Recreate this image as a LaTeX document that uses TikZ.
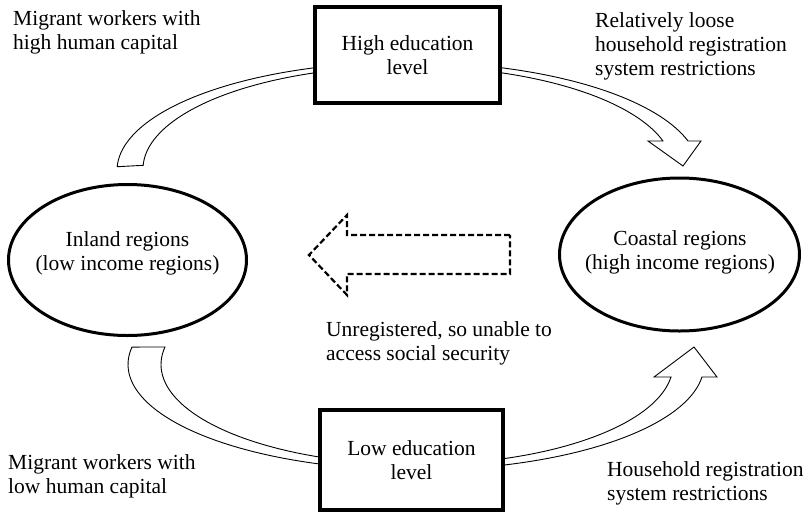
\documentclass[tikz,border=0pt]{standalone}
\usepackage{fontspec}
\setmainfont{Liberation Serif}
\usetikzlibrary{shapes.geometric}
\begin{document}
\begin{tikzpicture}[x=1pt,y=-1pt,
  txt/.style={font=\fontsize{21.5}{24}\selectfont, inner sep=0pt, align=left, anchor=north west},
  lbl/.style={font=\fontsize{21.5}{24}\selectfont, inner sep=0pt, align=center},
  edubox/.style={draw, line width=3.5pt, fill=white, inner sep=0pt, align=center,
     font=\fontsize{21.5}{24}\selectfont},
  region/.style={draw, ellipse, line width=3pt, fill=white, inner sep=0pt},
  band/.style={draw, line width=0.9pt, fill=white, line join=miter},
  dasharrow/.style={draw, line width=2.2pt, dash pattern=on 6pt off 3pt}]
\useasboundingbox (0,0) rectangle (812,515);

% top curved block arrow (inland -> coastal, via high education)
\path[band] plot[domain=178:15.8,samples=90] ({408+291*cos(\x)},{170.5-108.5*sin(\x)})
  -- (701,141) -- (683,166) -- (648,141) -- (663,141)
  -- plot[domain=15.8:178,samples=90] ({408+265*cos(\x)},{168.9-102.7*sin(\x)}) -- cycle;

% bottom curved block arrow (inland -> coastal, via low education)
\path[band] plot[domain=189.5:6.8,samples=90] ({416+288*cos(\x)},{364.5+105.6*sin(\x)})
  -- (717,377) -- (694,347) -- (654,377) -- (671,377)
  -- plot[domain=7.2:190.1,samples=90] ({417+256*cos(\x)},{364.5+100.1*sin(\x)}) -- cycle;

% boxes
\node[edubox, minimum width=185pt, minimum height=96pt] (high) at (407.5,55) {High education\\level};
\node[edubox, minimum width=183pt, minimum height=100pt] (low) at (411.5,460) {Low education\\level};

% regions
\node[region, minimum width=238pt, minimum height=151pt] (inland) at (127.5,260) {};
\node[lbl] (inlandtxt) at (127.5,253.5) {Inland regions\\(low income regions)};
\node[region, minimum width=240pt, minimum height=153pt] (coastal) at (679.5,254.5) {};
\node[lbl] (coastaltxt) at (680,252) {Coastal regions\\(high income regions)};

% dashed return arrow
\draw[dasharrow] (510,235) -- (347,235) -- (347,215) -- (309,255) -- (347,295)
  -- (347,274) -- (510,274) -- cycle;

% annotations
\node[txt] (tl) at (13,10.5) {Migrant workers with\\high human capital};
\node[txt] (tr) at (595,12) {Relatively loose\\household registration\\system restrictions};
\node[txt] (mid) at (326,321) {Unregistered, so unable to\\access social security};
\node[txt] (bl) at (8,454) {Migrant workers with\\low human capital};
\node[txt] (br) at (607,461) {Household registration\\system restrictions};
\end{tikzpicture}
\end{document}
